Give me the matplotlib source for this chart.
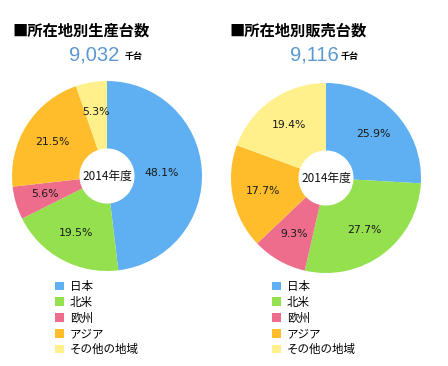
# -*- coding: utf-8 -*-
import numpy as np
import matplotlib
matplotlib.use('Agg')
import matplotlib.pyplot as plt

plt.rcParams['font.family'] = ['Noto Sans CJK JP', 'DejaVu Sans']

# data =====================================================
regions = ['日本', '北米', '欧州', 'アジア', 'その他の地域']
prod_share = [48.1, 19.5, 5.6, 21.5, 5.3]
sales_share = [25.9, 27.7, 9.3, 17.7, 19.4]
titles = ['■所在地別生産台数', '■所在地別販売台数']
totals = ['9,032', '9,116']
unit = '千台'
year_label = '2014年度'

colors = ['#5fb0f2', '#94e04e', '#ee6d8c', '#ffbd2c', '#fff08c']

W, H = 448, 366
fig = plt.figure(figsize=(W / 100, H / 100), dpi=100)


def px_axes(cx, cy, r):
    # axes in pixel coords (top-left origin), square around pie
    return fig.add_axes([(cx - r) / W, (H - cy - r) / H, 2 * r / W, 2 * r / H])


def draw_pie(cx, cy, r, values, title, total, tx, nx, ux, lx):
    ax = px_axes(cx, cy, r)
    wedges, _ = ax.pie(values, colors=colors, startangle=90, counterclock=False,
                       radius=1.0, wedgeprops=dict(width=0.71, linewidth=0))
    ax.set_xlim(-1, 1)
    ax.set_ylim(-1, 1)
    ax.set_aspect('equal')
    ax.axis('off')
    # percent labels
    for w, v in zip(wedges, values):
        ang = np.deg2rad((w.theta1 + w.theta2) / 2)
        d = 0.58 if v > 40 else 0.68
        ax.text(d * np.cos(ang), d * np.sin(ang), f'{v}%', ha='center', va='center',
                fontsize=7.8, color='#1a1a1a', family=['DejaVu Sans'])
    ax.text(0, 0, year_label, ha='center', va='center', fontsize=8.5, color='#111111')

    fig.text(tx / W, 1 - 31 / H, title, fontsize=11, fontweight='bold', va='center')
    fig.text(nx / W, 1 - 55 / H, total, fontsize=14.5, color='#5b98d2',
             va='center', family=['Liberation Sans'])
    fig.text(ux / W, 1 - 57 / H, unit, fontsize=6.5, fontweight='bold', va='center')

    fig.legend(wedges, regions, loc='upper left', bbox_to_anchor=(lx / W, 1 - 280 / H),
               frameon=False, fontsize=8.3, handlelength=0.8, handleheight=0.8,
               handletextpad=0.5, labelspacing=0.24, borderpad=0, borderaxespad=0)


draw_pie(107, 176, 95, prod_share, titles[0], totals[0], 12, 69, 125, 55)
draw_pie(326, 178, 95, sales_share, titles[1], totals[1], 229, 290, 341, 272)

fig.savefig('out.png', dpi=100, facecolor='white')
